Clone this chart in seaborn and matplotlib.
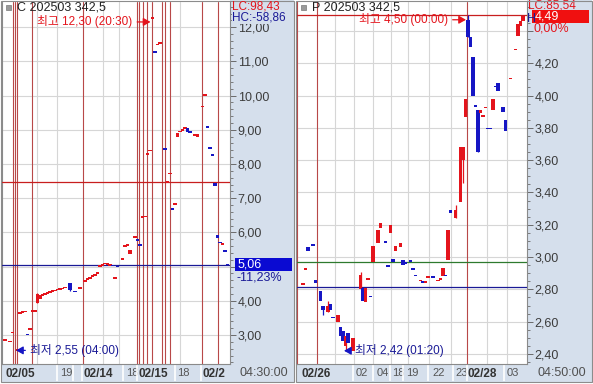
import matplotlib
matplotlib.use("Agg")
import matplotlib.pyplot as plt
import matplotlib.transforms as mtransforms
from matplotlib.patches import Rectangle
from matplotlib.ticker import MultipleLocator, FuncFormatter
import numpy as np
import pandas as pd
import seaborn as sns

# ---------------- data: left panel (C 202503 342.5) ----------------
L_x = [0, 2, 3, 5, 6, 7, 8, 9, 10, 11, 12, 13, 14, 15, 16, 17, 18, 19, 20, 21,
       22, 23, 24, 26, 28, 30, 32, 33, 34, 35, 36, 37, 38, 39, 40, 41, 42, 43, 44, 45,
       47, 48, 49, 50, 52, 53, 54, 55, 56, 57, 58, 59, 60, 61, 62, 64, 65, 66, 67, 68,
       69, 70, 71, 72, 73, 74, 76, 77, 79, 80, 81, 82, 83, 84, 85, 86, 87, 88, 89]
L_open = [2.84, 2.81, 3.07, 2.55, 3.60, 3.64, 3.67, 3.03, 3.17, 3.69,
          3.70, 3.94, 4.06, 4.14, 4.18, 4.21, 4.24, 4.26, 4.28, 4.31,
          4.33, 4.35, 4.37, 4.52, 4.30, 4.36, 4.56, 4.61, 4.65, 4.69,
          4.73, 4.77, 5.01, 5.04, 5.08, 5.07, 5.05, 5.04, 4.66, 5.01,
          5.21, 5.60, 5.63, 5.37, 5.86, 5.79, 5.64, 6.44, 6.45, 8.29,
          8.39, 12.26, 11.29, 11.49, 11.53, 8.45, 7.46, 7.71, 6.69, 6.82,
          8.78, 8.93, 8.98, 9.04, 9.05, 8.95, 8.84, 8.78, 9.67, 10.00,
          9.09, 8.48, 8.27, 7.45, 5.93, 5.71, 5.65, 5.47, 5.07]
L_close = [2.85, 2.82, 3.08, 2.56, 3.66, 3.69, 3.70, 3.01, 3.19, 3.71,
           3.72, 4.20, 4.16, 4.20, 4.23, 4.26, 4.28, 4.30, 4.32, 4.34,
           4.36, 4.38, 4.41, 4.33, 4.25, 4.38, 4.62, 4.66, 4.70, 4.74,
           4.79, 4.84, 5.03, 5.06, 5.10, 5.09, 5.06, 5.02, 4.68, 4.99,
           5.23, 5.62, 5.65, 5.50, 5.88, 5.77, 5.62, 6.46, 6.47, 8.31,
           8.41, 12.28, 11.26, 11.51, 11.55, 8.43, 7.48, 7.73, 6.67, 6.84,
           8.90, 8.96, 9.01, 9.06, 8.95, 8.93, 8.86, 8.88, 9.70, 10.02,
           9.07, 8.46, 8.25, 7.36, 5.84, 5.69, 5.67, 5.45, 5.05]
L_wick_x = [5, 13, 26, 59]
L_wick_hi = [2.58, 4.23, 4.53, 12.30]
L_wick_lo = [2.55, 3.93, 4.30, 12.26]
L_hi_val, L_hi_x, L_hi_txt = 12.30, 59, "최고 12,30 (20:30)"
L_lo_val, L_lo_x, L_lo_txt = 2.55, 5, "최저 2,55 (04:00)"
L_last, L_chg = 5.06, "-11,23%"
L_ref_red, L_ref_blue = 7.47, 5.06
L_sessions = [3.1, 4.1, 4.9, 10.7, 31.3, 52.7, 53.7, 55.1, 56.7, 58.7, 62.7, 64.0, 66.0, 78.7, 85.3]
L_grid_x = [12.8, 20.8, 39.2, 45.6, 70.0]
L_date_pos = [0.0, 22.0, 31.6, 48.4, 53.4, 68.8, 79.2]
L_date_lbl = ["02/05", "19", "02/14", "18", "02/15", "18", "02/2"]
L_date_sep = [20.8, 27.2, 30.8, 47.2, 52.8, 68.0, 78.4]

# ---------------- data: right panel (P 202503 342.5) ----------------
R_x = [2, 3, 4, 6, 7, 9, 10, 12, 13, 14, 16, 17, 18, 19, 20, 22, 25, 26, 27, 28,
       29, 30, 32, 33, 35, 36, 37, 38, 39, 41, 42, 43, 45, 46, 47, 49, 50, 51, 52, 54,
       56, 57, 58, 59, 60, 61, 63, 65, 66, 67, 68, 69, 70, 71, 72, 73, 74, 75, 76, 77,
       78, 79, 80, 82, 83, 85, 87, 88, 89, 90]
R_open = [2.83, 2.92, 3.06, 3.08, 2.86, 2.79, 2.70, 2.66, 2.71, 2.63,
          2.60, 2.57, 2.54, 2.45, 2.53, 2.42, 2.80, 2.81, 2.72, 2.86,
          2.76, 2.97, 3.09, 3.18, 3.10, 2.95, 3.15, 2.99, 3.04, 3.06,
          2.98, 2.97, 2.98, 2.93, 2.89, 2.85, 2.85, 2.84, 2.87, 2.88,
          2.85, 2.86, 2.88, 2.89, 2.98, 3.29, 3.24, 3.34, 3.60, 3.87,
          4.47, 4.36, 4.24, 3.94, 3.91, 3.89, 3.87, 3.92, 3.80, 3.80,
          3.91, 4.06, 4.08, 3.93, 3.85, 4.10, 4.28, 4.37, 4.43, 4.46]
R_close = [2.84, 2.93, 3.04, 3.07, 2.84, 2.73, 2.67, 2.70, 2.67, 2.62,
           2.64, 2.51, 2.48, 2.51, 2.47, 2.50, 2.89, 2.73, 2.81, 2.87,
           2.75, 3.07, 3.17, 3.21, 3.09, 2.94, 3.20, 2.97, 3.07, 3.09,
           2.95, 2.96, 2.97, 2.92, 2.88, 2.86, 2.84, 2.85, 2.88, 2.87,
           2.86, 2.87, 2.93, 2.88, 3.17, 3.27, 3.29, 3.68, 3.68, 3.98,
           4.36, 4.30, 4.00, 3.93, 3.65, 3.91, 3.88, 3.93, 3.79, 3.79,
           3.98, 4.05, 4.03, 3.90, 3.78, 4.11, 4.29, 4.44, 4.46, 4.49]
R_wick_x = [10, 12, 19, 25, 63, 66, 68, 72]
R_wick_hi = [2.70, 2.73, 2.51, 2.91, 3.32, 3.68, 4.50, 3.91]
R_wick_lo = [2.64, 2.66, 2.42, 2.80, 3.24, 3.46, 4.36, 3.65]
R_hi_val, R_hi_x, R_hi_txt = 4.50, 68, "최고 4,50 (00:00)"
R_lo_val, R_lo_x, R_lo_txt = 2.42, 19, "최저 2,42 (01:20)"
R_last, R_chg = 4.49, "0,00%"
R_ref_red, R_ref_green, R_ref_blue = 4.50, 2.97, 2.815
R_sessions = [7.6, 67.6]
R_grid_x = [14.8, 22.4, 30.0, 37.2, 44.0, 52.4, 61.2, 75.6, 83.6]
R_date_pos = [1.2, 23.2, 31.4, 37.6, 43.2, 53.6, 62.8, 68.0, 83.6]
R_date_lbl = ["02/26", "02", "04", "18", "19", "22", "23", "02/28", "03"]
R_date_sep = [22.0, 30.0, 36.8, 42.0, 52.0, 62.0, 67.6, 82.4]

# ---------------- style ----------------
sns.set_theme(style="white")
plt.rcParams["font.family"] = ["Liberation Sans", "Noto Sans CJK KR", "DejaVu Sans"]

RED = "#E4141C"
BLUE = "#1616C4"
NAVY = "#1A1A96"
SESS = "#B84848"
GRID = "#D6D6D6"
STRIP = "#D5DFEC"
TXT = "#3C3C3C"
FS = 9

W, H = 593, 384
fig = plt.figure(figsize=(W / 100, H / 100), dpi=100)
fig.patch.set_facecolor("white")


def frect(x0, y0, x1, y1):
    return [x0 / W, 1 - y1 / H, (x1 - x0) / W, (y1 - y0) / H]


def fpatch(x0, y0, x1, y1, **kw):
    r = Rectangle((x0 / W, 1 - y1 / H), (x1 - x0) / W, (y1 - y0) / H,
                  transform=fig.transFigure, **kw)
    fig.add_artist(r)
    return r


def ftext(xp, yp, s, **kw):
    kw.setdefault("va", "center")
    kw.setdefault("ha", "left")
    kw.setdefault("fontsize", FS)
    return fig.text(xp / W, 1 - yp / H, s, **kw)


def make_fmt(hidden_near, tol):
    def f(v, p):
        if abs(v - hidden_near) < tol:
            return ""
        return f"{v:.2f}".replace(".", ",")
    return FuncFormatter(f)


def draw_panel(ax, xs, o, c, wx, whi, wlo, xlim, ylim, major, minor,
               hlines, sessions, grid_x, date_pos, date_lbl, date_sep,
               left_spine_color, fmt):
    ax.set_facecolor("white")
    ax.set_xlim(*xlim)
    ax.set_ylim(*ylim)
    ppu = ax.bbox.height / (ylim[1] - ylim[0])

    ax.yaxis.set_major_locator(MultipleLocator(major))
    ax.yaxis.set_minor_locator(MultipleLocator(minor))
    ax.yaxis.set_major_formatter(fmt)
    ax.yaxis.tick_right()
    for yv in np.arange(np.ceil(ylim[0] / major) * major, ylim[1], major):
        ax.axhline(yv, color=GRID, lw=0.8, zorder=1)
    for gx in grid_x:
        ax.axvline(gx, color=GRID, lw=0.8, zorder=1)
    for sx in sessions:
        ax.axvline(sx, color=SESS, lw=0.8, zorder=2)
    for yv, col in hlines:
        ax.axhline(yv, color=col, lw=0.9, zorder=3)

    # candles
    df = pd.DataFrame({"x": xs, "o": o, "c": c})
    df["up"] = df["c"] >= df["o"]
    mind = 1.6 / ppu
    diff = (df["c"] - df["o"]).abs()
    height = np.maximum(diff, mind)
    bottom = np.where(diff < mind, (df["o"] + df["c"]) / 2 - mind / 2,
                      np.minimum(df["o"], df["c"]))
    colors = np.where(df["up"], RED, BLUE)
    wk = pd.DataFrame({"x": wx, "hi": whi, "lo": wlo}).merge(df[["x", "up"]], on="x")
    ax.vlines(wk["x"], wk["lo"], wk["hi"], colors=np.where(wk["up"], RED, BLUE),
              lw=0.9, zorder=4)
    ax.bar(df["x"], height, bottom=bottom, width=1.5, color=colors,
           linewidth=0, zorder=5, antialiased=False)

    # ticks
    ax.tick_params(axis="y", which="major", direction="out", length=4, width=0.7,
                   color="#6A6A6A", pad=1.5, labelsize=FS, labelcolor=TXT,
                   right=True, left=False)
    ax.tick_params(axis="y", which="minor", direction="out", length=2, width=0.6,
                   color="#6A6A6A", right=True, left=False)
    ax.set_xticks(date_pos)
    ax.set_xticklabels(date_lbl)
    ax.tick_params(axis="x", length=0, pad=3, labelcolor=TXT)
    for t, s in zip(ax.get_xticklabels(), date_lbl):
        t.set_ha("left")
        if "/" in s:
            t.set_fontweight("bold")
            t.set_fontsize(8.5)
            t.set_color("#333333")
        else:
            t.set_fontsize(8)
            t.set_color("#555555")
    bt = mtransforms.blended_transform_factory(ax.transData, ax.transAxes)
    h_strip = 17 / ax.bbox.height
    ax.vlines(date_sep, -h_strip, 0, transform=bt, colors="white", lw=1.2,
              clip_on=False, zorder=1)

    ax.spines["top"].set_visible(False)
    ax.spines["right"].set_color("#8A8A8A")
    ax.spines["bottom"].set_color("#8A8A8A")
    ax.spines["left"].set_color(left_spine_color)
    for s in ["right", "bottom", "left"]:
        ax.spines[s].set_linewidth(0.8)
    ax.set_xlabel("")
    ax.set_ylabel("")


# strip backgrounds
fpatch(230, 0, 294, 382, fc=STRIP, ec="none", zorder=-2)
fpatch(2, 364, 230, 382, fc=STRIP, ec="none", zorder=-2)
fpatch(527, 0, 592, 382, fc=STRIP, ec="none", zorder=-2)
fpatch(297, 364, 527, 382, fc=STRIP, ec="none", zorder=-2)

axL = fig.add_axes(frect(2, 2, 230, 364))
axR = fig.add_axes(frect(297, 2, 527, 364))

draw_panel(axL, L_x, L_open, L_close, L_wick_x, L_wick_hi, L_wick_lo,
           (-1.2, 90.0), (2.152, 12.737), 1.0, 0.2,
           [(L_ref_red, "#C81E1E"), (L_ref_blue, NAVY)],
           L_sessions, L_grid_x, L_date_pos, L_date_lbl, L_date_sep, "#8A8A8A",
           make_fmt(L_last, 0.3))
draw_panel(axR, R_x, R_open, R_close, R_wick_x, R_wick_hi, R_wick_lo,
           (-0.4, 91.6), (2.338, 4.579), 0.2, 0.05,
           [(R_ref_red, "#C81E1E"), (R_ref_green, "#2E7A2E"), (R_ref_blue, NAVY)],
           R_sessions, R_grid_x, R_date_pos, R_date_lbl, R_date_sep, SESS,
           make_fmt(R_last - 0.08, 0.05))

# high / low annotations
for ax, hv, hx, ht, lv, lx, lt, dx in [
        (axL, L_hi_val, L_hi_x, L_hi_txt, L_lo_val, L_lo_x, L_lo_txt, 14),
        (axR, R_hi_val, R_hi_x, R_hi_txt, R_lo_val, R_lo_x, R_lo_txt, 11)]:
    shifted = mtransforms.offset_copy(ax.transData, fig=fig, x=-1, y=-5, units="dots")
    ax.annotate(ht, xy=(hx - 0.4, hv), xycoords=shifted, xytext=(-18, 0),
                textcoords="offset pixels", ha="right", va="center", color=RED,
                fontsize=8.5, zorder=8,
                arrowprops=dict(arrowstyle="-|>,head_length=0.5,head_width=0.28",
                                color=RED, lw=0.9, shrinkA=1, shrinkB=0))
    ax.annotate(lt, xy=(lx - 0.6, lv), xycoords="data", xytext=(dx, 0),
                textcoords="offset pixels", ha="left", va="center", color=NAVY,
                fontsize=8.5, zorder=8, annotation_clip=False,
                arrowprops=dict(arrowstyle="-|>,head_length=0.5,head_width=0.28",
                                color=BLUE, lw=0.9, shrinkA=1, shrinkB=0))

# last price tags
for ax, val, chg, fc, chgcol in [
        (axL, L_last, L_chg, "#0A0AD2", NAVY),
        (axR, R_last, R_chg, "#F01010", RED)]:
    bt = mtransforms.blended_transform_factory(ax.transAxes, ax.transData)
    w_ax = ax.bbox.width
    unit = ax.bbox.height / (ax.get_ylim()[1] - ax.get_ylim()[0])
    ax.add_patch(Rectangle((1 + 5 / w_ax, val - 6.5 / unit), 57 / w_ax, 13 / unit,
                           transform=bt, fc=fc, ec="none", clip_on=False, zorder=9))
    ax.text(1 + 8 / w_ax, val, f"{val:.2f}".replace(".", ","), transform=bt,
            color="white", fontsize=FS, va="center", ha="left", zorder=10, clip_on=False)
    ax.annotate(chg, xy=(1, val), xycoords=bt, xytext=(7, -12.5),
                textcoords="offset pixels", color=chgcol, fontsize=FS,
                va="center", ha="left", zorder=10, annotation_clip=False)

# headers and strip texts
for xp in (6, 301):
    fpatch(xp, 5, xp + 5, 10, fc="#9A9A9A", ec="#7A7A7A", lw=0.5, zorder=6)
ftext(17, 8, "C 202503 342,5", color="#222222")
ftext(312, 8, "P 202503 342,5", color="#222222")
ftext(232, 18, "HC:-58,86", color=NAVY, fontsize=8.5, zorder=5,
      bbox=dict(boxstyle="square,pad=0.0", fc=STRIP, ec="none"))
ftext(232, 6.5, "LC:98,43", color=RED, fontsize=8.5, zorder=12)
ftext(528, 5.5, "LC:85,54", color=RED, fontsize=8.5)
ftext(526.5, 18.5, "H", color=NAVY, zorder=1)
ftext(239, 372.5, "04:30:00", color="#505050")
ftext(537, 372.5, "04:50:00", color="#505050")

# panel frames
fpatch(1, 1, 294, 382, fc="none", ec="#8C8C8C", lw=0.8, zorder=7)
fpatch(296, 1, 592, 382, fc="none", ec="#8C8C8C", lw=0.8, zorder=7)

fig.savefig("out.png", dpi=100)
